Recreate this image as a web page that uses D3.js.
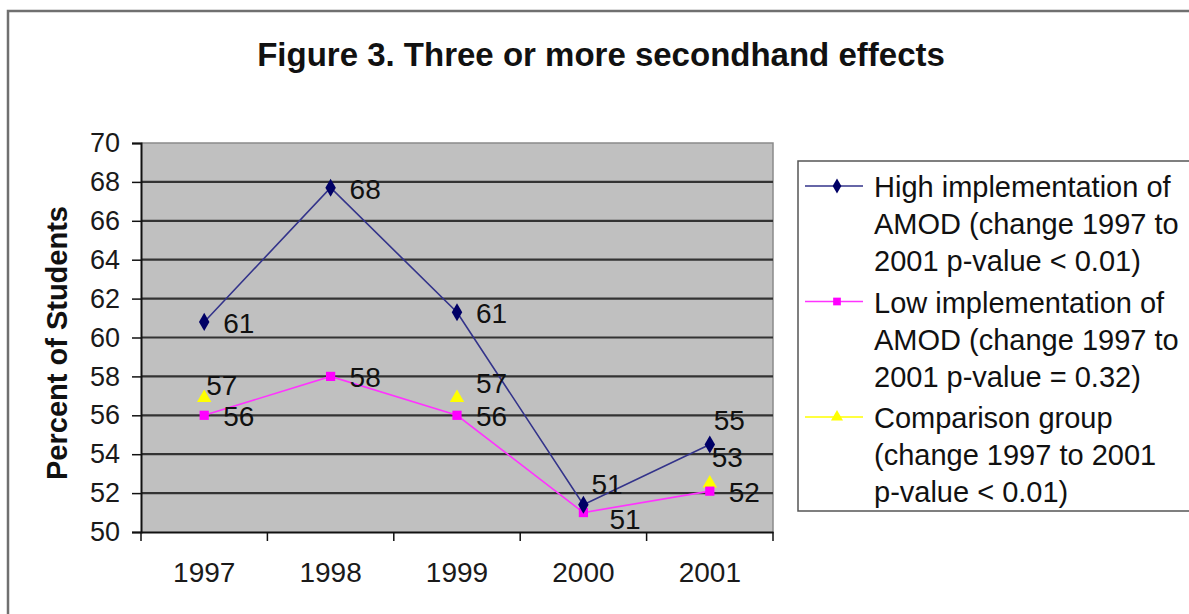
<!DOCTYPE html>
<html>
<head>
<meta charset="utf-8">
<script src="https://cdn.jsdelivr.net/npm/d3@7"></script>
<style>
  html, body { margin: 0; padding: 0; background: #ffffff; }
  svg { display: block; font-family: "Liberation Sans", Arial, sans-serif; }
</style>
</head>
<body>
<svg id="chart" width="1189" height="614"></svg>
<script>
// ---- data ----
const years = ["1997", "1998", "1999", "2000", "2001"];
const highImpl = [60.8, 67.7, 61.3, 51.4, 54.5];
const lowImpl = [56.0, 58.0, 56.0, 51.0, 52.1];
const comparison = [56.9, null, 56.9, null, 52.5];
const yTicks = [50, 52, 54, 56, 58, 60, 62, 64, 66, 68, 70];

const legendLines = [
  ["High implementation of", "AMOD (change 1997 to", "2001 p-value < 0.01)"],
  ["Low implementation of", "AMOD (change 1997 to", "2001 p-value = 0.32)"],
  ["Comparison group", "(change 1997 to 2001", "p-value < 0.01)"]
];

// ---- layout / styles ----
const plot = { left: 141, right: 773, top: 143, bottom: 532 };
const styles = [
  { line: "#33338a", marker: "#000066", shape: d3.symbolDiamond, size: 95 },
  { line: "#ff33ff", marker: "#ff00ff", shape: d3.symbolSquare, size: 85 },
  { line: "#ffff00", marker: "#ffff00", shape: d3.symbolTriangle, size: 90 }
];
// label offsets from each point [dx, dy]; default sits to the right
const labelNudge = {
  "0-3": [8, -21], "0-4": [4, -25],
  "1-3": [26, 6],
  "2-0": [2, -13], "2-2": [19, -15], "2-4": [2, -26]
};

const svg = d3.select("#chart");

// outer chart frame (left and top edges show)
svg.append("path")
  .attr("d", "M8,620 L8,11 L1195,11")
  .attr("fill", "none").attr("stroke", "#707070").attr("stroke-width", 2.5);

// title
svg.append("text")
  .attr("x", 601).attr("y", 66)
  .attr("text-anchor", "middle")
  .attr("font-size", 33).attr("font-weight", "bold").attr("fill", "#111")
  .text("Figure 3. Three or more secondhand effects");

const x = d3.scaleBand().domain(years).range([plot.left, plot.right]).padding(0);
const y = d3.scaleLinear().domain([50, 70]).range([plot.bottom, plot.top]);
const cx = d => x(d) + x.bandwidth() / 2;

// plot background
svg.append("rect")
  .attr("x", plot.left).attr("y", plot.top)
  .attr("width", plot.right - plot.left).attr("height", plot.bottom - plot.top)
  .attr("fill", "#c0c0c0");
svg.append("path")
  .attr("d", `M${plot.left},${plot.top} L${plot.right},${plot.top} L${plot.right},${plot.bottom}`)
  .attr("fill", "none").attr("stroke", "#8a8a8a").attr("stroke-width", 1.5);

// gridlines
svg.append("g").selectAll("line")
  .data(yTicks.filter(t => t > 50 && t < 70))
  .join("line")
  .attr("x1", plot.left).attr("x2", plot.right)
  .attr("y1", d => y(d)).attr("y2", d => y(d))
  .attr("stroke", "#333").attr("stroke-width", 2.2);

// y axis
const yAxis = svg.append("g")
  .attr("transform", `translate(${plot.left},0)`)
  .call(d3.axisLeft(y).tickValues(yTicks).tickSize(9).tickPadding(12).tickFormat(d3.format("d")));
yAxis.select(".domain").attr("stroke", "#111").attr("stroke-width", 2);
yAxis.selectAll(".tick line").attr("stroke", "#111").attr("stroke-width", 1.5);
yAxis.selectAll("text").attr("font-size", 27).attr("fill", "#1a1a1a")
  .attr("font-family", "Liberation Sans, Arial, sans-serif");

// x axis: ticks sit on category boundaries
const xAxis = svg.append("g")
  .attr("transform", `translate(0,${plot.bottom})`)
  .call(d3.axisBottom(x).tickSize(0).tickPadding(30));
xAxis.select(".domain").attr("stroke", "#111").attr("stroke-width", 2);
xAxis.selectAll("text").attr("font-size", 28).attr("fill", "#1a1a1a")
  .attr("font-family", "Liberation Sans, Arial, sans-serif");
xAxis.selectAll(".boundary")
  .data(years.map(d => x(d)).concat([plot.right]))
  .join("line")
  .attr("x1", d => d).attr("x2", d => d)
  .attr("y1", 0).attr("y2", 9)
  .attr("stroke", "#111").attr("stroke-width", 1.5);

// y axis title
svg.append("text")
  .attr("transform", "translate(67,343) rotate(-90)")
  .attr("text-anchor", "middle")
  .attr("font-size", 29).attr("font-weight", "bold").attr("fill", "#111")
  .text("Percent of Students");

// series: lines break where a year has no value
const allSeries = [highImpl, lowImpl, comparison];
const lineGen = d3.line()
  .defined(d => d.v !== null)
  .x(d => cx(d.year)).y(d => y(d.v));

[2, 1, 0].forEach(si => {
  const pts = years.map((yr, i) => ({ year: yr, v: allSeries[si][i], i }));
  const st = styles[si];
  svg.append("path")
    .datum(pts)
    .attr("d", lineGen)
    .attr("fill", "none").attr("stroke", st.line).attr("stroke-width", 1.6);
  svg.append("g").selectAll("path")
    .data(pts.filter(p => p.v !== null))
    .join("path")
    .attr("transform", p => `translate(${cx(p.year)},${y(p.v)})`)
    .attr("d", d3.symbol().type(st.shape).size(st.size))
    .attr("fill", st.marker);
});

// value labels
[0, 1, 2].forEach(si => {
  const pts = years.map((yr, i) => ({ year: yr, v: allSeries[si][i], i }))
    .filter(p => p.v !== null);
  svg.append("g").selectAll("text")
    .data(pts)
    .join("text")
    .attr("x", p => cx(p.year) + (labelNudge[si + "-" + p.i] || [19, 1])[0])
    .attr("y", p => y(p.v) + (labelNudge[si + "-" + p.i] || [19, 1])[1])
    .attr("dy", "0.36em")
    .attr("font-size", 28).attr("fill", "#111")
    .text(p => Math.round(p.v));
});

// legend
const lg = svg.append("g");
lg.append("rect")
  .attr("x", 798).attr("y", 161).attr("width", 420).attr("height", 350)
  .attr("fill", "#ffffff").attr("stroke", "#555").attr("stroke-width", 1.5);
legendLines.forEach((lines, si) => {
  const top = 187 + si * 115.5;
  const st = styles[si];
  lg.append("line")
    .attr("x1", 805).attr("x2", 863).attr("y1", top - 1).attr("y2", top - 1)
    .attr("stroke", st.line).attr("stroke-width", 1.6);
  lg.append("path")
    .attr("transform", `translate(837,${top - 1})`)
    .attr("d", d3.symbol().type(st.shape).size(st.size * 0.7))
    .attr("fill", st.marker);
  lines.forEach((t, li) => {
    lg.append("text")
      .attr("x", 874).attr("y", top + li * 37)
      .attr("dy", "0.36em")
      .attr("font-size", 29).attr("fill", "#111")
      .text(t);
  });
});
</script>
</body>
</html>
